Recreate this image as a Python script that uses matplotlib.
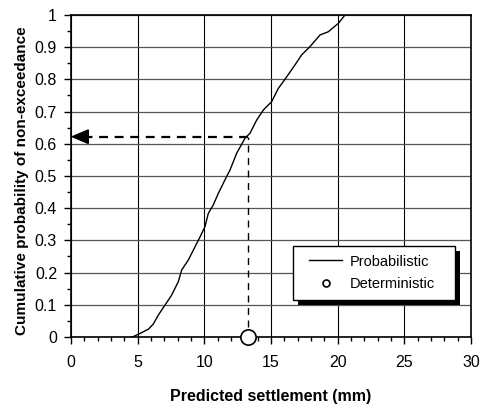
import numpy as np
import matplotlib.pyplot as plt
from matplotlib.ticker import MultipleLocator, FuncFormatter
from matplotlib.patches import Rectangle

plt.rcParams['font.family'] = ['Liberation Sans', 'DejaVu Sans']

# curve: settlement (mm) vs cumulative probability
settlement = [4.55, 4.67, 5.18, 5.8, 6.17, 6.55, 7.05, 7.55, 8.05, 8.3, 8.8, 9.3,
              9.68, 10.05, 10.3, 10.67, 11.05, 11.55, 11.93, 12.43, 13.05, 13.43,
              13.93, 14.43, 15.05, 15.55, 16.18, 16.8, 17.3, 17.93, 18.68, 19.3,
              20.05, 20.55]
prob = [0.0, 0.001, 0.011, 0.024, 0.04, 0.068, 0.099, 0.13, 0.172, 0.208, 0.239,
        0.28, 0.311, 0.343, 0.384, 0.41, 0.446, 0.488, 0.519, 0.571, 0.617, 0.633,
        0.674, 0.705, 0.731, 0.772, 0.808, 0.845, 0.876, 0.902, 0.938, 0.948,
        0.974, 1.0]

det_x = 13.3
det_p = 0.622
arrow_end = 0.1

fig = plt.figure(figsize=(4.81, 4.05), dpi=100)
ax = fig.add_axes([0.1476, 0.168, 0.8316, 0.795])

ax.set_xlim(0, 30)
ax.set_ylim(0, 1)
ax.xaxis.set_major_locator(MultipleLocator(5))
ax.xaxis.set_minor_locator(MultipleLocator(1))
ax.yaxis.set_major_locator(MultipleLocator(0.1))
ax.yaxis.set_minor_locator(MultipleLocator(0.05))
ax.yaxis.set_major_formatter(FuncFormatter(lambda v, p: ('%g' % round(v, 2))))

ax.grid(True, axis='x', which='major', color='black', lw=0.8)
ax.grid(True, axis='y', which='major', color='#555555', lw=0.9)
ax.set_axisbelow(True)

ax.tick_params(axis='both', which='major', length=5, width=1, labelsize=11.5, direction='out')
ax.tick_params(axis='both', which='minor', length=3, width=1, direction='out')
ax.tick_params(axis='x', pad=8)
ax.tick_params(axis='y', pad=5)
for s in ax.spines.values():
    s.set_linewidth(1.2)

ax.plot(settlement, prob, color='black', lw=1, label='Probabilistic', zorder=3)

# dashed reading lines
ax.plot([det_x, det_x], [0.03, det_p], color='black', lw=1, ls=(0, (5, 4)), zorder=3)
ax.plot([det_x, arrow_end + 1.1], [det_p, det_p], color='black', lw=1.6,
        ls=(0, (4, 3)), zorder=3)
ax.fill([arrow_end, arrow_end + 1.2, arrow_end + 1.2], [det_p, det_p + 0.021, det_p - 0.021],
        color='black', zorder=4, clip_on=False)

ax.plot([det_x], [0], 'o', ms=11, mfc='white', mec='black', mew=1.2, clip_on=False, zorder=5)
ax.plot([], [], 'o', ms=5, mfc='white', mec='black', mew=1.2, label='Deterministic')

ax.set_xlabel('Predicted settlement (mm)', fontsize=11.5, fontweight='bold', labelpad=14)
ax.set_ylabel('Cumulative probability of non-exceedance', fontsize=11, fontweight='bold')
ax.yaxis.set_label_coords(-0.105, 0.484)

# legend box with a hard black shadow, drawn by hand
bx, by, bw, bh = 0.555, 0.115, 0.405, 0.168
ax.add_patch(Rectangle((bx + 0.0125, by - 0.0155), bw, bh, transform=ax.transAxes,
                       facecolor='black', edgecolor='none', zorder=6))
ax.add_patch(Rectangle((bx, by), bw, bh, transform=ax.transAxes,
                       facecolor='white', edgecolor='black', lw=1, zorder=7))
leg = ax.legend(loc='center', bbox_to_anchor=(bx + bw / 2 - 0.005, by + bh / 2),
                fontsize=10.5, frameon=False, handlelength=2.3, handletextpad=0.5,
                borderpad=0.2, labelspacing=0.6)
leg.set_zorder(8)

fig.savefig('out.png', dpi=100)
